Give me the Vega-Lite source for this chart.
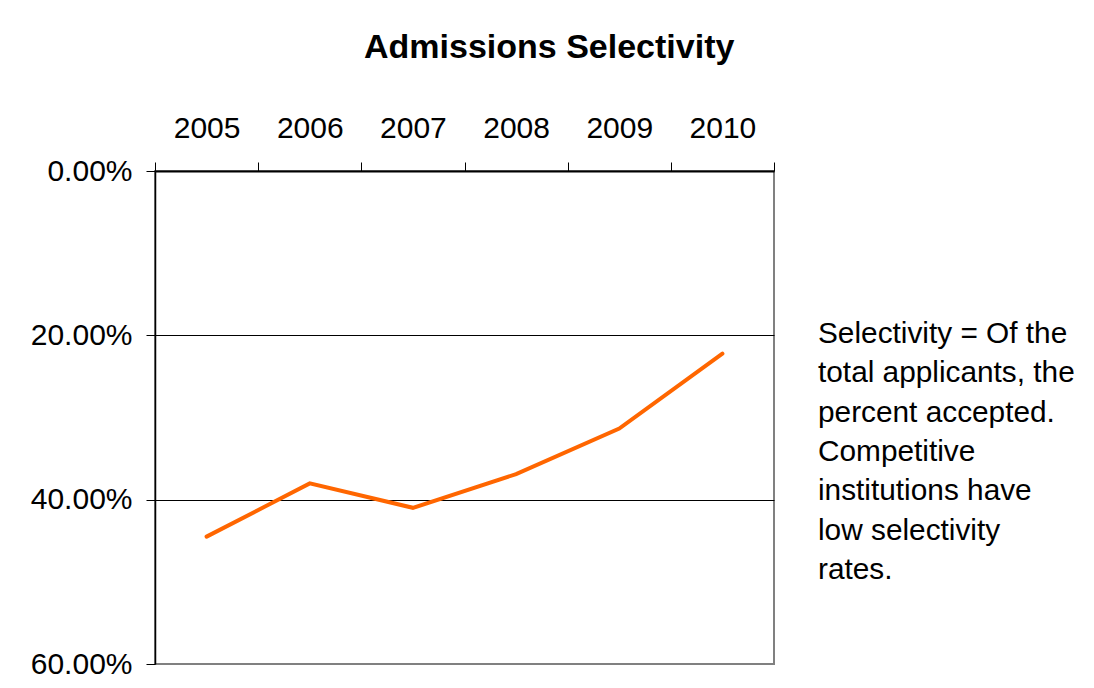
{
  "$schema": "https://vega.github.io/schema/vega-lite/v6.json",
  "autosize": {"type": "none"},
  "padding": {"left": 155, "top": 171, "right": 939, "bottom": 517},
  "background": "white",
  "title": {
    "text": "Admissions Selectivity",
    "anchor": "start",
    "frame": "group",
    "dx": 209,
    "offset": 20,
    "baseline": "alphabetic",
    "font": "Liberation Sans",
    "fontSize": 34,
    "fontWeight": "bold",
    "color": "#000000"
  },
  "datasets": {
    "sel": [
      {"year": "2005", "selectivity": 0.4450},
      {"year": "2006", "selectivity": 0.3802},
      {"year": "2007", "selectivity": 0.4099},
      {"year": "2008", "selectivity": 0.3689},
      {"year": "2009", "selectivity": 0.3134},
      {"year": "2010", "selectivity": 0.2223}
    ],
    "note": [
      {"line": 0, "text": "Selectivity = Of the"},
      {"line": 1, "text": "total applicants, the"},
      {"line": 2, "text": "percent accepted."},
      {"line": 3, "text": "Competitive"},
      {"line": 4, "text": "institutions have"},
      {"line": 5, "text": "low selectivity"},
      {"line": 6, "text": "rates."}
    ]
  },
  "bounds": "flush",
  "spacing": 44,
  "hconcat": [
    {
      "width": 619,
      "height": 493,
      "data": {"name": "sel"},
      "view": {"stroke": "#808080", "strokeWidth": 2, "fill": "white"},
      "mark": {"type": "line", "color": "#FF6600", "strokeWidth": 4, "strokeCap": "round", "strokeJoin": "miter"},
      "encoding": {
        "x": {
          "field": "year",
          "type": "ordinal",
          "scale": {"paddingInner": 0, "paddingOuter": 0},
          "axis": {
            "orient": "top",
            "title": null,
            "labelAngle": 0,
            "tickBand": "extent",
            "tickSize": 9,
            "tickColor": "#000000",
            "tickWidth": 1,
            "domainColor": "#000000",
            "domainWidth": 2,
            "labelFont": "Liberation Sans",
            "labelFontSize": 30,
            "labelColor": "#000000",
            "labelBaseline": "alphabetic",
            "labelPadding": 25,
            "grid": false
          }
        },
        "y": {
          "field": "selectivity",
          "type": "quantitative",
          "scale": {"domain": [0, 0.6], "reverse": true, "nice": false, "zero": false},
          "axis": {
            "title": null,
            "values": [0, 0.2, 0.4, 0.6],
            "format": ".2%",
            "tickSize": 9,
            "tickColor": "#000000",
            "tickWidth": 1,
            "domainColor": "#000000",
            "domainWidth": 1.5,
            "labelFont": "Liberation Sans",
            "labelFontSize": 30,
            "labelColor": "#000000",
            "labelPadding": 14,
            "grid": true,
            "gridColor": "#000000",
            "gridWidth": 1,
            "gridOpacity": {"condition": {"test": "datum.value > 0.01 && datum.value < 0.59", "value": 1}, "value": 0}
          }
        }
      }
    },
    {
      "width": 270,
      "height": 493,
      "data": {"name": "note"},
      "view": {"stroke": null},
      "mark": {"type": "text", "align": "left", "baseline": "alphabetic", "font": "Liberation Sans", "fontSize": 29.8, "color": "#000000"},
      "encoding": {
        "x": {"datum": 0, "type": "quantitative", "scale": {"domain": [0, 1]}, "axis": null},
        "y": {"field": "line", "type": "quantitative", "scale": {"domain": [-4.354, 8.149], "reverse": true, "nice": false, "zero": false}, "axis": null},
        "text": {"field": "text"}
      }
    }
  ]
}
